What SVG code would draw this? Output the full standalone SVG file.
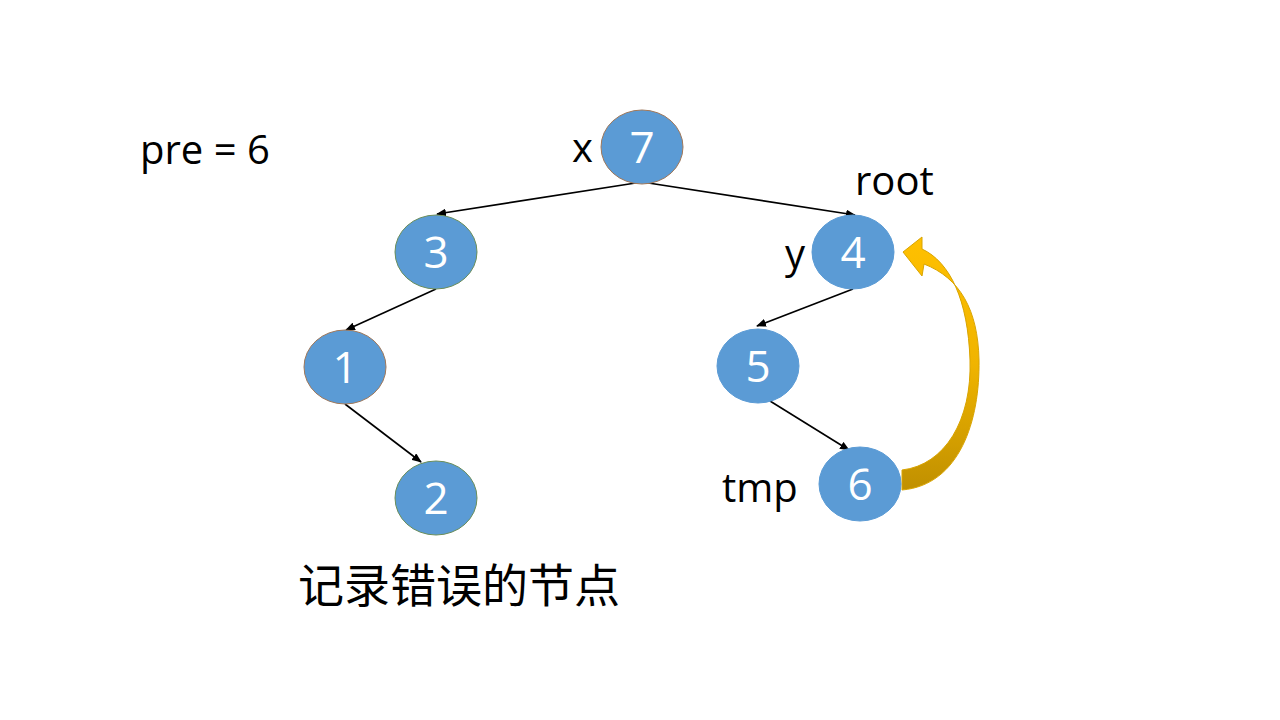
<svg xmlns="http://www.w3.org/2000/svg" width="1280" height="720" viewBox="0 0 1280 720">
<defs>
<style>
.n{fill:#5B9BD5;stroke:#6b8e5a;stroke-width:1}
.nt{fill:#fff;font-family:"Open Sans","Liberation Sans",sans-serif;font-size:44px;text-anchor:middle}
.t{fill:#000;font-family:"Open Sans","Liberation Sans",sans-serif;font-size:40px}
.e{stroke:#000;stroke-width:1.6;fill:none;marker-end:url(#a)}
</style>
<marker id="a" markerWidth="10" markerHeight="8" refX="9" refY="4" orient="auto" markerUnits="userSpaceOnUse"><path d="M0,0 L10,4 L0,8 Z" fill="#000"/></marker>
<linearGradient id="g" x1="0" y1="0" x2="0" y2="1"><stop offset="0" stop-color="#FFC000"/><stop offset="0.5" stop-color="#F0B400"/><stop offset="1" stop-color="#C09000"/></linearGradient>
</defs>
<rect width="1280" height="720" fill="#fff"/>
<g id="connectors">
<line class="e" x1="642" y1="182" x2="437" y2="214"/>
<line class="e" x1="642" y1="182" x2="855" y2="215"/>
<line class="e" x1="436" y1="289" x2="346" y2="330"/>
<line class="e" x1="853" y1="289" x2="757" y2="326"/>
<line class="e" x1="345" y1="404" x2="421" y2="462"/>
<line class="e" x1="770" y1="401" x2="849" y2="450"/>
<path d="M902,490 C960,485 980,420 979,360 C978,310 960,278 924,264 L922,276 L903,252 L922,237 L922,249 C950,262 968,300 970,360 C972,420 945,465 902,470 Z" fill="url(#g)" stroke="#d9a400" stroke-width="1"/>
</g>
<g id="n7"><ellipse class="n" style="stroke:#a0785a" cx="642" cy="147" rx="41" ry="37"/><text class="nt" x="642" y="163">7</text></g>
<g id="n3"><ellipse class="n" cx="436" cy="252" rx="41" ry="37"/><text class="nt" x="436" y="268">3</text></g>
<g id="n1"><ellipse class="n" style="stroke:#a0785a" cx="345" cy="367" rx="41" ry="37"/><text class="nt" x="345" y="383">1</text></g>
<g id="n2"><ellipse class="n" cx="436" cy="498" rx="41" ry="37"/><text class="nt" x="436" y="514">2</text></g>
<g id="n4"><ellipse class="n" style="stroke:#5B9BD5" cx="853" cy="252" rx="41" ry="37"/><text class="nt" x="853" y="268">4</text></g>
<g id="n5"><ellipse class="n" style="stroke:#5B9BD5" cx="758" cy="366" rx="41" ry="37"/><text class="nt" x="758" y="382">5</text></g>
<g id="n6"><ellipse class="n" style="stroke:#5B9BD5" cx="860" cy="484" rx="41" ry="37"/><text class="nt" x="860" y="500">6</text></g>
<g id="labels">
<text class="t" x="140" y="164">pre = 6</text>
<text class="t" x="572" y="162">x</text>
<text class="t" x="855" y="195">root</text>
<text class="t" x="785" y="268">y</text>
<text class="t" x="722" y="502">tmp</text>
<text x="298" y="602" style="font-family:'Liberation Serif','Noto Sans CJK SC',sans-serif;font-size:46px;fill:#000">记录错误的节点</text>
</g>
</svg>
